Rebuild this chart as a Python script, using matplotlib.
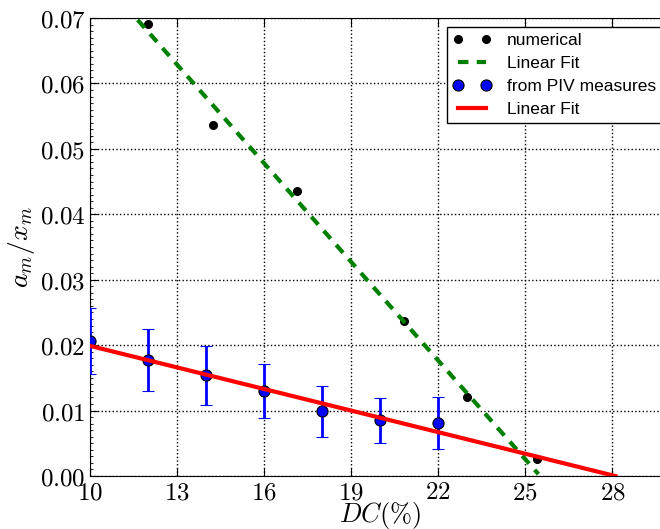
import matplotlib
matplotlib.use("Agg")
import matplotlib.pyplot as plt
import numpy as np
from matplotlib.ticker import FixedLocator, FixedFormatter, AutoMinorLocator
from matplotlib.lines import Line2D

plt.rcParams['mathtext.fontset'] = 'cm'

# numerical results
num_x = [12.0, 14.24, 17.13, 20.81, 22.98, 25.39]
num_y = [0.0691, 0.0537, 0.0436, 0.0237, 0.0121, 0.0026]
# linear fit of numerical (slope, intercept) and its drawn x-range
num_fit = (-0.00503, 0.1283)
num_fit_range = (11.65, 25.45)

# PIV measurements
piv_x = [10, 12, 14, 16, 18, 20, 22]
piv_y = [0.0206, 0.0177, 0.0154, 0.0130, 0.0099, 0.0085, 0.0081]
piv_err = [0.0050, 0.0047, 0.0045, 0.0041, 0.0039, 0.0034, 0.0039]
piv_fit = (-0.0011, 0.0309)
piv_fit_range = (10.0, 28.1)

xticks = [10, 13, 16, 19, 22, 25, 28]
xticklabels = ['$10$', '$13$', '$16$', '$19$', '$22$', '$25$', '$28$']
yticks = [0.0, 0.01, 0.02, 0.03, 0.04, 0.05, 0.06, 0.07]
yticklabels = ['$0.00$', '$0.01$', '$0.02$', '$0.03$', '$0.04$', '$0.05$', '$0.06$', '$0.07$']

fig = plt.figure(figsize=(6.6, 5.29), dpi=100)
ax = fig.add_axes([0.136, 0.1002, 0.880, 0.8658])

h1, = ax.plot(num_x, num_y, 'o', color='black', markersize=5.5, label='numerical')
xf = np.linspace(*num_fit_range, 50)
h2, = ax.plot(xf, num_fit[0] * xf + num_fit[1], '--', color='green', lw=3,
              dashes=(2.5, 2), label='Linear Fit')
ax.errorbar(piv_x, piv_y, yerr=piv_err, fmt='o', color='blue', ecolor='blue',
            mec='black', mew=0.8, markersize=8, elinewidth=2, capsize=4,
            capthick=1.5, zorder=3)
xr = np.linspace(*piv_fit_range, 50)
h4, = ax.plot(xr, piv_fit[0] * xr + piv_fit[1], '-', color='red', lw=3,
              label='Linear Fit', zorder=4)
h3 = Line2D([], [], ls='none', marker='o', color='blue', mec='black', mew=0.8,
            markersize=8)

ax.set_xlim(10, 30)
ax.set_ylim(0, 0.07)
ax.xaxis.set_major_locator(FixedLocator(xticks))
ax.xaxis.set_major_formatter(FixedFormatter(xticklabels))
ax.yaxis.set_major_locator(FixedLocator(yticks))
ax.yaxis.set_major_formatter(FixedFormatter(yticklabels))
ax.yaxis.set_minor_locator(AutoMinorLocator(10))
ax.tick_params(axis='both', which='major', direction='in', length=6, labelsize=18,
               top=True, right=True, pad=3)
ax.tick_params(axis='y', which='minor', direction='in', length=2, left=True, right=True)
ax.grid(True, which='major', linestyle=':', color='black', lw=1)

ax.set_xlabel('$DC(\\%)$', fontsize=19, labelpad=-3)
ax.set_ylabel('$a_m/x_m$', fontsize=20, labelpad=2)

leg = ax.legend([h1, h2, h3, h4],
                ['numerical', 'Linear Fit', 'from PIV measures', 'Linear Fit'],
                loc='upper left', bbox_to_anchor=(0.6147, 0.981), numpoints=2,
                prop={'family': 'Liberation Sans', 'size': 12.5}, fancybox=False,
                framealpha=1, edgecolor='black', borderpad=0.35, labelspacing=0.45,
                handlelength=2.2, handletextpad=0.9, borderaxespad=0)
leg.get_frame().set_linewidth(1)

fig.savefig('out.png', dpi=100)
